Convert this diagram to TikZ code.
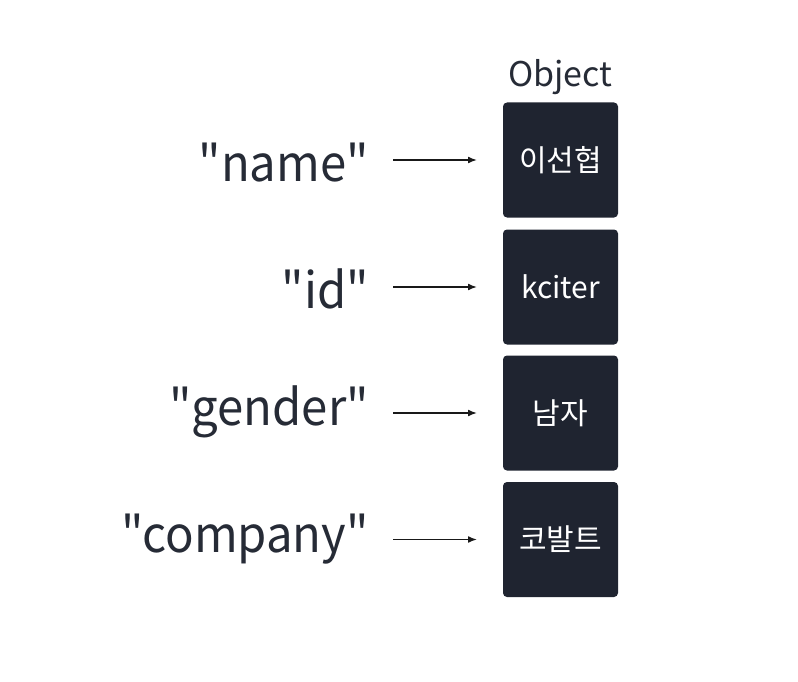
\documentclass[tikz,border=0pt]{standalone}
\usepackage{fontspec}
\setmainfont{Noto Sans CJK KR}
\newfontfamily\keyfont{Noto Sans CJK KR}[FakeStretch=0.945]
\usetikzlibrary{arrows.meta}
\definecolor{boxc}{HTML}{1F2430}
\definecolor{txtc}{HTML}{262B36}
\tikzset{
  valbox/.style={fill=boxc, rounded corners=4pt, minimum width=115pt, minimum height=115pt, inner sep=0pt, text=white, font=\fontsize{30}{33}\selectfont},
  keylab/.style={anchor=base east, text=txtc, font=\keyfont\fontsize{50}{56}\selectfont, inner sep=0pt},
  conn/.style={-{Latex[length=9pt,width=7pt]}, line width=1.6pt, black!90},
}
\begin{document}
\begin{tikzpicture}[x=1pt,y=-1pt]
\useasboundingbox (0,0) rectangle (798,682);
\node[valbox] (v1) at (560.5,160) {이선협};
\node[valbox] (v2) at (560.5,287) {kciter};
\node[valbox] (v3) at (560.5,413) {남자};
\node[valbox] (v4) at (560.5,539.5) {코발트};
\node[text=txtc, font=\fontsize{34}{36}\selectfont, inner sep=0pt, anchor=base] (obj) at (560.5,87) {Object};
\node[keylab] (k1) at (369,182) {"name"};
\node[keylab] (k2) at (369,308) {"id"};
\node[keylab] (k3) at (369,425) {"gender"};
\node[keylab] (k4) at (369,552) {"company"};
\coordinate (a1) at (393,160);
\coordinate (a2) at (393,287);
\coordinate (a3) at (393,413);
\coordinate (a4) at (393,539.5);
\draw[conn] (a1) -- (v1.west -| 477,0);
\draw[conn] (a2) -- (v2.west -| 477,0);
\draw[conn] (a3) -- (v3.west -| 477,0);
\draw[conn] (a4) -- (v4.west -| 477,0);
\end{tikzpicture}
\end{document}
